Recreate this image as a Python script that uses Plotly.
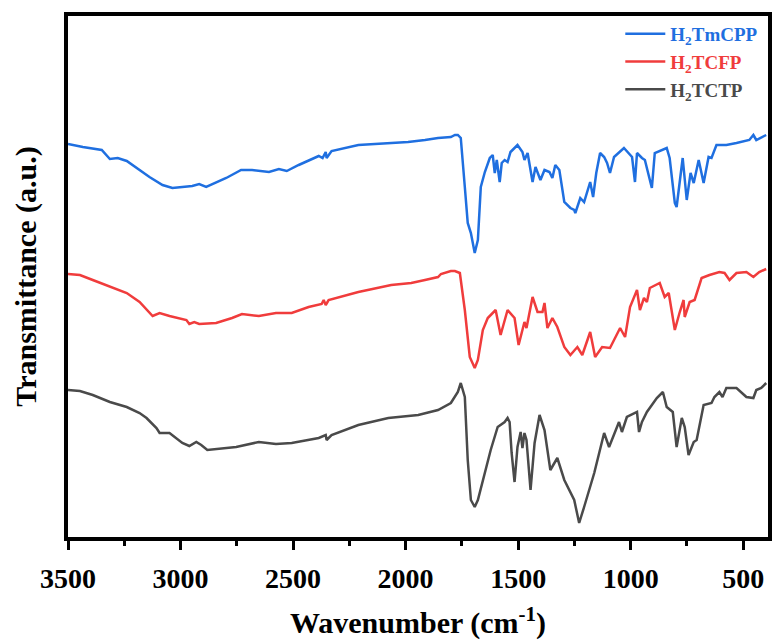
import plotly.graph_objects as go

# ---- data (wavenumber in cm-1, transmittance in arbitrary units, offset per trace) ----
wn_tmcpp = [3500, 3434, 3350, 3314, 3279, 3239, 3138, 3080, 3036, 2948, 2917, 2886, 2797, 2731, 2682,
            2607, 2563, 2528, 2475, 2386, 2369, 2355, 2351, 2329, 2210, 2064, 1989, 1914, 1856, 1799,
            1781, 1768, 1755, 1737, 1724, 1710, 1693, 1679, 1666, 1648, 1626, 1613, 1604, 1595, 1582,
            1573, 1560, 1547, 1534, 1503, 1481, 1472, 1458, 1436, 1423, 1401, 1383, 1361, 1348, 1335,
            1317, 1295, 1268, 1251, 1246, 1224, 1207, 1180, 1167, 1153, 1136, 1118, 1105, 1092, 1074,
            1030, 1008, 994, 981, 972, 950, 937, 906, 893, 840, 827, 804, 796, 769, 751, 734, 720,
            698, 676, 654, 641, 619, 575, 530, 473, 455, 442, 398]
t_tmcpp = [393, 390, 387, 378, 379, 376, 360, 352, 349, 351, 353, 350, 359, 367, 367,
           365, 368, 366, 372, 381, 379, 385, 379, 386, 392, 394, 395, 397, 399, 400,
           402, 402, 399, 350, 314, 304, 284, 297, 350, 365, 379, 382, 364, 377, 355,
           374, 377, 375, 385, 392, 385, 377, 384, 355, 370, 357, 367, 365, 359, 372,
           367, 335, 329, 327, 324, 339, 335, 355, 340, 364, 384, 380, 374, 364, 380,
           389, 384, 380, 355, 384, 379, 377, 349, 384, 389, 379, 334, 330, 379, 337, 364, 354,
           377, 354, 380, 379, 392, 392, 394, 397, 402, 397, 402]

wn_tcfp = [3500, 3447, 3390, 3301, 3239, 3182, 3151, 3124, 3093, 3049, 2974, 2961, 2939, 2917, 2842,
           2771, 2727, 2652, 2576, 2506, 2431, 2373, 2364, 2355, 2342, 2210, 2064, 1975, 1914, 1856,
           1843, 1799, 1781, 1759, 1737, 1715, 1693, 1679, 1657, 1635, 1600, 1578, 1547, 1516, 1498,
           1472, 1463, 1436, 1414, 1392, 1383, 1370, 1348, 1326, 1295, 1268, 1237, 1215, 1180, 1158,
           1127, 1092, 1047, 1025, 1003, 972, 959, 941, 928, 915, 871, 849, 831, 804, 782, 765, 760,
           738, 716, 685, 650, 606, 583, 561, 530, 486, 455, 429, 398]
t_tcfp = [263, 262, 257, 249, 244, 235, 227, 221, 224, 221, 217, 213, 215, 213, 214,
          219, 223, 221, 224, 224, 230, 233, 237, 232, 237, 245, 252, 254, 257, 260,
          263, 266, 266, 264, 227, 180, 169, 177, 207, 219, 227, 202, 227, 219, 192,
          215, 209, 240, 225, 225, 234, 209, 219, 210, 190, 182, 190, 182, 205, 180,
          190, 189, 209, 200, 230, 247, 227, 239, 235, 249, 254, 240, 244, 207, 225, 237, 220,
          235, 237, 259, 262, 265, 264, 257, 264, 265, 260, 265, 268]

wn_tctp = [3500, 3447, 3390, 3314, 3239, 3182, 3151, 3107, 3093, 3049, 2992, 2961, 2930, 2908, 2881,
           2842, 2753, 2652, 2576, 2506, 2386, 2355, 2351, 2329, 2210, 2077, 1944, 1856, 1799, 1768,
           1755, 1737, 1724, 1710, 1693, 1679, 1648, 1622, 1591, 1560, 1547, 1538, 1529, 1516, 1503,
           1489, 1481, 1472, 1463, 1445, 1427, 1405, 1383, 1357, 1326, 1295, 1251, 1229, 1207, 1162,
           1118, 1096, 1052, 1039, 1017, 972, 963, 950, 928, 884, 857, 840, 813, 796, 773, 760, 743,
           720, 707, 676, 641, 628, 606, 592, 575, 530, 486, 455, 442, 420, 398]
t_tctp = [147, 146, 142, 135, 130, 124, 119, 109, 104, 104, 94, 91, 95, 92, 87,
          88, 90, 95, 93, 94, 99, 102, 97, 102, 112, 119, 122, 127, 134, 145,
          154, 140, 77, 37, 30, 37, 64, 87, 110, 115, 119, 115, 84, 55, 90,
          105, 89, 104, 97, 47, 94, 122, 107, 67, 79, 57, 37, 14, 30, 64,
          104, 90, 115, 105, 120, 125, 105, 115, 125, 139, 145, 130, 125, 90, 119, 110, 82,
          95, 97, 132, 134, 140, 145, 140, 149, 149, 140, 139, 147, 149, 154]

names = ["H<sub>2</sub>TmCPP", "H<sub>2</sub>TCFP", "H<sub>2</sub>TCTP"]
colors = ["#1f6fe0", "#f03c3c", "#4a4a4a"]
x_ticks = [3500, 3000, 2500, 2000, 1500, 1000, 500]
x_minor = [3250, 2750, 2250, 1750, 1250, 750]

FONT = "Liberation Serif, Times New Roman, serif"

fig = go.Figure()
for wn, t, name, col in zip([wn_tmcpp, wn_tcfp, wn_tctp], [t_tmcpp, t_tcfp, t_tctp], names, colors):
    fig.add_trace(go.Scatter(
        x=wn, y=t, mode="lines",
        name=f'<span style="color:{col}">{name}</span>',
        line=dict(color=col, width=2.5),
    ))

fig.update_layout(
    width=778, height=641,
    margin=dict(l=68, r=6, t=16, b=104),
    plot_bgcolor="white", paper_bgcolor="white",
    font=dict(family=FONT, color="black", weight="bold"),
    showlegend=True,
    legend=dict(
        x=0.789, y=1.002, xanchor="left", yanchor="top",
        bgcolor="rgba(0,0,0,0)", borderwidth=0,
        font=dict(family=FONT, size=19, weight="bold"),
        itemwidth=40,
    ),
)
fig.update_xaxes(
    range=[3500, 390],
    tickmode="array", tickvals=x_ticks, ticktext=[str(v) for v in x_ticks],
    ticks="outside", ticklen=9, tickwidth=3, tickcolor="black",
    ticklabelstandoff=5,
    minor=dict(tickmode="array", tickvals=x_minor,
               ticks="outside", ticklen=5, tickwidth=3, tickcolor="black"),
    showline=True, linewidth=3.5, linecolor="black", mirror=True,
    showgrid=False, zeroline=False,
    tickfont=dict(family=FONT, size=28, weight="bold", color="black"),
    title=dict(text="Wavenumber (cm<sup>-1</sup>)", standoff=20,
               font=dict(family=FONT, size=30, weight="bold", color="black")),
)
fig.update_yaxes(
    range=[0, 521],
    showticklabels=False, ticks="",
    showline=True, linewidth=3.5, linecolor="black", mirror=True,
    showgrid=False, zeroline=False,
    title=dict(text="Transmittance (a.u.)", standoff=20,
               font=dict(family=FONT, size=30, weight="bold", color="black")),
)

fig.write_html("out.html")
